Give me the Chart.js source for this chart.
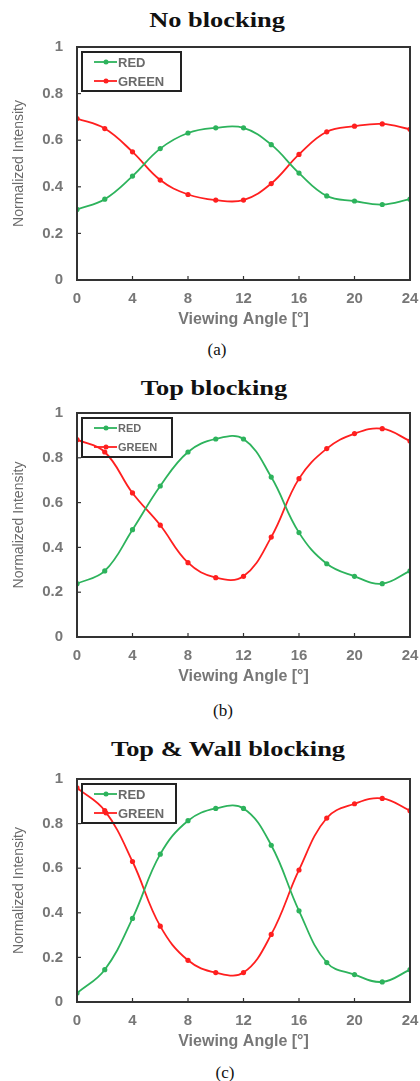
<!DOCTYPE html>
<html>
<head>
<meta charset="utf-8">
<script src="https://cdn.jsdelivr.net/npm/chart.js@4.4.0/dist/chart.umd.min.js"></script>
<style>
  body { margin: 0; background: #fff; width: 420px; height: 1081px; position: relative; overflow: hidden; }
  .title { position: absolute; font: bold 22px "Liberation Serif", serif; color: #111; white-space: nowrap;
           transform: translate(-50%, -50%) scaleX(1.2); }
  .cap { position: absolute; font: 17px "Liberation Serif", serif; color: #111; transform: translate(-50%, -50%); }
  canvas { position: absolute; left: 0; }
</style>
</head>
<body>
<div class="title" style="left:217px; top:20px;">No blocking</div>
<canvas id="c1" width="420" height="302" style="top:38px"></canvas>
<div class="cap" style="left:217px; top:350px;">(a)</div>

<div class="title" style="left:214px; top:388px;">Top blocking</div>
<canvas id="c2" width="420" height="293" style="top:404px"></canvas>
<div class="cap" style="left:223px; top:711px;">(b)</div>

<div class="title" style="left:228px; top:749px;">Top &amp; Wall blocking</div>
<canvas id="c3" width="420" height="292" style="top:770px"></canvas>
<div class="cap" style="left:225px; top:1073px;">(c)</div>

<script>
let angles = [0, 2, 4, 6, 8, 10, 12, 14, 16, 18, 20, 22, 24];

// (a) No blocking
let redA = [0.303, 0.347, 0.446, 0.564, 0.631, 0.653, 0.653, 0.581, 0.459, 0.361, 0.339, 0.324, 0.347];
let greenA = [0.693, 0.650, 0.550, 0.429, 0.367, 0.343, 0.343, 0.414, 0.539, 0.636, 0.660, 0.670, 0.647];

// (b) Top blocking
let redB = [0.238, 0.295, 0.479, 0.674, 0.826, 0.884, 0.884, 0.714, 0.466, 0.327, 0.271, 0.238, 0.295];
let greenB = [0.881, 0.826, 0.643, 0.499, 0.332, 0.265, 0.271, 0.446, 0.707, 0.841, 0.908, 0.930, 0.875];

// (c) Top & Wall blocking
let redC = [0.040, 0.145, 0.375, 0.663, 0.813, 0.868, 0.868, 0.703, 0.409, 0.177, 0.123, 0.090, 0.145];
let greenC = [0.960, 0.858, 0.630, 0.340, 0.187, 0.132, 0.132, 0.303, 0.592, 0.825, 0.889, 0.913, 0.858];

let seriesNames = ["RED", "GREEN"];
let seriesColors = ["#2db35c", "#ff1f1f"];

// frame around plot + small inside tick marks
let framePlugin = {
  id: "frame",
  afterDraw(chart) {
    let ctx = chart.ctx;
    let a = chart.chartArea;
    ctx.save();
    ctx.strokeStyle = "#333";
    ctx.lineWidth = 2;
    ctx.strokeRect(a.left, a.top, a.right - a.left, a.bottom - a.top);
    ctx.lineWidth = 1.2;
    chart.scales.x.ticks.forEach((t) => {
      let px = chart.scales.x.getPixelForValue(t.value);
      ctx.beginPath();
      ctx.moveTo(px, a.bottom);
      ctx.lineTo(px, a.bottom - 4);
      ctx.stroke();
    });
    chart.scales.y.ticks.forEach((t) => {
      let py = chart.scales.y.getPixelForValue(t.value);
      ctx.beginPath();
      ctx.moveTo(a.left, py);
      ctx.lineTo(a.left + 4, py);
      ctx.stroke();
    });
    ctx.restore();
  },
};

// boxed legend in the top-left corner, line with a dot like the original
let boxLegend = {
  id: "boxLegend",
  afterDraw(chart, args, opts) {
    let ctx = chart.ctx;
    let a = chart.chartArea;
    let x = a.left + 5;
    let y = a.top + 5;
    ctx.save();
    ctx.strokeStyle = "#222";
    ctx.lineWidth = 2;
    ctx.strokeRect(x, y, opts.width, 39);
    ctx.font = "bold " + opts.size + "px 'Liberation Sans', Arial";
    ctx.textBaseline = "middle";
    chart.data.datasets.forEach((ds, i) => {
      let ry = y + 10 + i * 19;
      ctx.strokeStyle = ds.borderColor;
      ctx.lineWidth = 1.8;
      ctx.beginPath();
      ctx.moveTo(x + 12, ry);
      ctx.lineTo(x + 35, ry);
      ctx.stroke();
      ctx.fillStyle = ds.borderColor;
      ctx.beginPath();
      ctx.arc(x + 24, ry, 2.5, 0, Math.PI * 2);
      ctx.fill();
      ctx.fillStyle = "#6a6a6a";
      ctx.fillText(ds.label, x + 36, ry + 1);
    });
    ctx.restore();
  },
};

function makeChart(id, red, green, legendSize, legendWidth) {
  let values = [red, green];
  return new Chart(document.getElementById(id), {
    type: "line",
    data: {
      datasets: values.map((v, i) => ({
        label: seriesNames[i],
        data: angles.map((a, j) => ({ x: a, y: v[j] })),
        borderColor: seriesColors[i],
        backgroundColor: seriesColors[i],
        borderWidth: 1.8,
        pointRadius: 2.6,
        pointBorderWidth: 0,
        tension: 0.4,
      })),
    },
    options: {
      responsive: false,
      animation: false,
      layout: { padding: { top: 9, right: 10, left: 0, bottom: 0 } },
      plugins: {
        legend: { display: false },
        tooltip: { enabled: false },
        boxLegend: { size: legendSize, width: legendWidth },
      },
      scales: {
        x: {
          type: "linear",
          min: 0,
          max: 24,
          grid: { display: false, drawTicks: false },
          border: { display: false },
          ticks: { stepSize: 4, padding: 10, color: "#777", font: { family: "Liberation Sans", size: 15, weight: "bold" } },
          title: { display: true, text: "Viewing Angle [°]", color: "#777", padding: { top: 4, bottom: 11 },
                   font: { family: "Liberation Sans", size: 16, weight: "bold" } },
          afterFit(scale) {
            scale.height = 60;
            scale.paddingLeft = 0;
            scale.paddingRight = 0;
          },
        },
        y: {
          min: 0,
          max: 1,
          grid: { display: false, drawTicks: false },
          border: { display: false },
          ticks: { stepSize: 0.2, padding: 14, color: "#777", font: { family: "Liberation Sans", size: 15, weight: "bold" },
                   callback: (v) => String(Number(v.toFixed(1))) },
          title: { display: true, text: "Normalized Intensity", color: "#6a6a6a", padding: { top: 11, bottom: 0 },
                   font: { family: "Liberation Sans", size: 14 } },
          afterFit(scale) {
            scale.width = 77;
            scale.paddingTop = 0;
            scale.paddingBottom = 0;
          },
        },
      },
    },
    plugins: [framePlugin, boxLegend],
  });
}

makeChart("c1", redA, greenA, 13, 99);
makeChart("c2", redB, greenB, 11, 90);
makeChart("c3", redC, greenC, 13, 94);
</script>
</body>
</html>
